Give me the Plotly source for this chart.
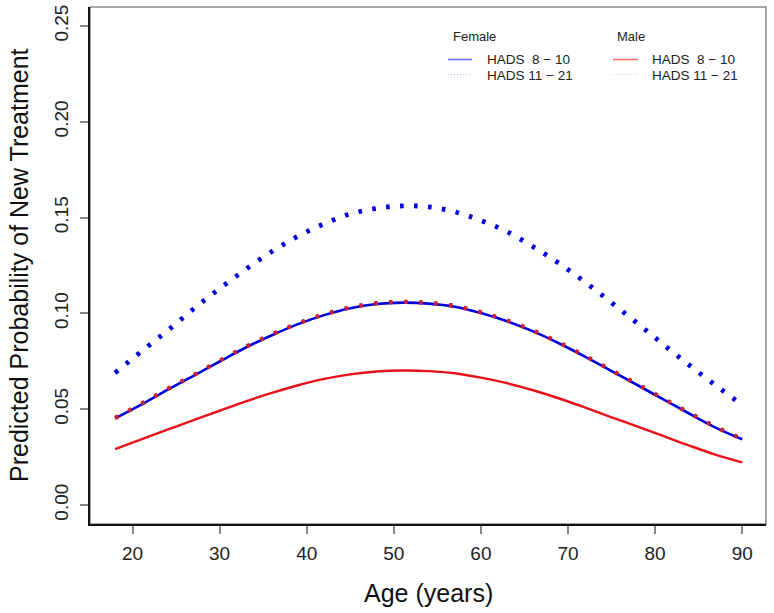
import plotly.graph_objects as go

# ---------------- data ----------------
age = [18, 21, 24, 27, 30, 33, 36, 39, 42, 45, 48, 51, 54,
       57, 60, 63, 66, 69, 72, 75, 78, 81, 84, 87, 90]

female_hads_8_10 = [0.0452, 0.0524, 0.0601, 0.0674, 0.0749, 0.0822, 0.0886, 0.0944,
                    0.0991, 0.1027, 0.1049, 0.1056, 0.1051, 0.1035, 0.1002, 0.0959,
                    0.0906, 0.0843, 0.0773, 0.0699, 0.0625, 0.0550, 0.0475, 0.0403, 0.0343]

female_hads_11_21 = [0.0690, 0.0801, 0.0909, 0.1023, 0.1129, 0.1230, 0.1323, 0.1403,
                     0.1468, 0.1519, 0.1548, 0.1561, 0.1556, 0.1530, 0.1485, 0.1426,
                     0.1348, 0.1260, 0.1162, 0.1056, 0.0947, 0.0836, 0.0727, 0.0623, 0.0522]

male_hads_8_10 = [0.0292, 0.0342, 0.0393, 0.0443, 0.0492, 0.0541, 0.0585, 0.0625,
                  0.0658, 0.0682, 0.0697, 0.0702, 0.0699, 0.0688, 0.0665, 0.0636,
                  0.0599, 0.0556, 0.0508, 0.0458, 0.0409, 0.0359, 0.0309, 0.0262, 0.0223]

male_hads_11_21 = [0.0454, 0.0528, 0.0605, 0.0678, 0.0753, 0.0826, 0.0890, 0.0948,
                   0.0995, 0.1031, 0.1053, 0.1060, 0.1055, 0.1039, 0.1006, 0.0963,
                   0.0910, 0.0847, 0.0777, 0.0703, 0.0629, 0.0554, 0.0479, 0.0407, 0.0345]

x_ticks = [20, 30, 40, 50, 60, 70, 80, 90]
y_ticks = [0.00, 0.05, 0.10, 0.15, 0.20, 0.25]
y_tick_labels = ["0.00", "0.05", "0.10", "0.15", "0.20", "0.25"]

legend_groups = ["Female", "Male"]
legend_labels = ["HADS\u00a0\u00a08 \u2212 10", "HADS 11 \u2212 21"]

# ---------------- styling ----------------
FONT = "Liberation Sans, Arial, Helvetica, sans-serif"
BLUE = "#0000dc"
RED = "#e8101a"
RED_DOT = "#d0202e"

W, H = 774, 613
L, R, T, B = 90, 8, 7, 89
PW, PH = W - L - R, H - T - B


def px(sx):
    """pixel x -> paper x"""
    return (sx - L) / PW


def py(sy):
    """pixel y -> paper y"""
    return (H - B - sy) / PH


fig = go.Figure()

fig.add_trace(go.Scatter(x=age, y=female_hads_8_10, mode="lines",
                         line=dict(color=BLUE, width=2.6, shape="spline"),
                         showlegend=False))
fig.add_trace(go.Scatter(x=age, y=female_hads_11_21, mode="lines",
                         line=dict(color=BLUE, width=4.8, shape="spline", dash="3.6px,10.4px"),
                         showlegend=False))
fig.add_trace(go.Scatter(x=age, y=male_hads_8_10, mode="lines",
                         line=dict(color=RED, width=2.4, shape="spline"),
                         showlegend=False))
fig.add_trace(go.Scatter(x=age, y=male_hads_11_21, mode="lines",
                         line=dict(color=RED_DOT, width=4.4, shape="spline", dash="3.5px,11.5px"),
                         showlegend=False))

shapes = []
annotations = []

# plot frame (top/right grey, left/bottom drawn by axis lines)
shapes.append(dict(type="rect", xref="paper", yref="paper", x0=0, x1=1, y0=0, y1=1,
                   line=dict(color="#8c8c8c", width=1.6), layer="below"))

# two-column legend
cols = [(451, 448, 472, 485, "#6f6fff", "#b8b8ff"), (615, 613, 638, 650, "#ff7070", "#ffbcbc")]
for (tx, lx0, lx1, txt_x, c_solid, c_dot), grp in zip(cols, legend_groups):
    annotations.append(dict(text=grp, x=px(tx), y=py(37), xref="paper", yref="paper",
                            xanchor="left", yanchor="middle", showarrow=False,
                            font=dict(family=FONT, size=13, color="#222222")))
    shapes.append(dict(type="line", xref="paper", yref="paper",
                       x0=px(lx0), x1=px(lx1), y0=py(59.5), y1=py(59.5),
                       line=dict(color=c_solid, width=1.6)))
    shapes.append(dict(type="line", xref="paper", yref="paper",
                       x0=px(lx0), x1=px(lx1), y0=py(74.5), y1=py(74.5),
                       line=dict(color=c_dot, width=1.2, dash="1px,2px")))
    for yy, lab in zip([60, 75], legend_labels):
        annotations.append(dict(text=lab, x=px(txt_x), y=py(yy), xref="paper", yref="paper",
                                xanchor="left", yanchor="middle", showarrow=False,
                                font=dict(family=FONT, size=13.5, color="#222222")))

# axis titles
annotations.append(dict(text="Age (years)", x=px(428), y=py(593), xref="paper", yref="paper",
                        xanchor="center", yanchor="middle", showarrow=False,
                        font=dict(family=FONT, size=25, color="#111111")))
annotations.append(dict(text="Predicted Probability of New Treatment", x=px(19), y=py(265),
                        xref="paper", yref="paper", xanchor="center", yanchor="middle",
                        textangle=-90, showarrow=False,
                        font=dict(family=FONT, size=25, color="#111111")))

fig.update_layout(
    width=W, height=H,
    margin=dict(l=L, r=R, t=T, b=B, autoexpand=False),
    paper_bgcolor="white", plot_bgcolor="white",
    showlegend=False,
    shapes=shapes, annotations=annotations,
    font=dict(family=FONT, color="#222222"),
)
fig.update_xaxes(range=[15.12, 92.73], tickvals=x_ticks, showgrid=False, zeroline=False,
                 showline=True, linecolor="#111111", linewidth=1.5,
                 ticks="outside", ticklen=8, tickwidth=1.6, tickcolor="#888888",
                 ticklabelstandoff=3, ticklabeloverflow="allow",
                 tickfont=dict(family=FONT, size=19, color="#222222"))
fig.update_yaxes(range=[-0.0099, 0.2599], tickvals=y_ticks, ticktext=y_tick_labels,
                 showgrid=False, zeroline=False,
                 showline=True, linecolor="#111111", linewidth=1.5,
                 ticks="outside", ticklen=8, tickwidth=1.6, tickcolor="#888888",
                 tickangle=-90, ticklabelstandoff=5, ticklabeloverflow="allow",
                 tickfont=dict(family=FONT, size=19, color="#222222"))

# remove the browser's default 8px page margin so the figure sits at the window origin
fig.write_html("out.html", config={"displayModeBar": False},
               post_script="document.body.style.margin='0px';")
